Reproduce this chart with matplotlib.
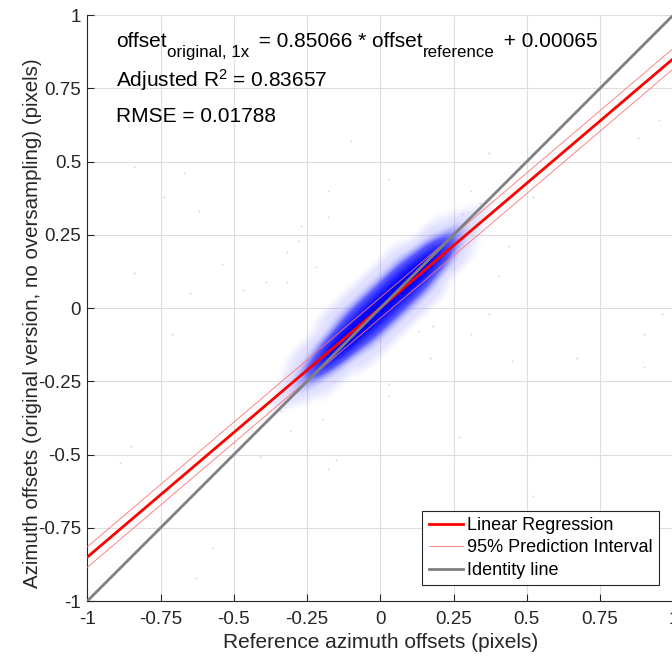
import numpy as np
import matplotlib
matplotlib.use('Agg')
import matplotlib.pyplot as plt
from matplotlib.colors import LinearSegmentedColormap
from matplotlib.transforms import Affine2D

plt.rcParams['font.family'] = ['Liberation Sans', 'DejaVu Sans']
plt.rcParams['mathtext.fontset'] = 'custom'
plt.rcParams['mathtext.rm'] = 'Liberation Sans'
plt.rcParams['mathtext.it'] = 'Liberation Sans:italic'

# regression results (from the fit annotation)
slope = 0.85066
intercept = 0.00065
adj_r2 = 0.83657
rmse = 0.01788
pi_half = 0.035          # half width of the 95% prediction band

ticks = [-1, -0.75, -0.5, -0.25, 0, 0.25, 0.5, 0.75, 1]
tick_labels = ['-1', '-0.75', '-0.5', '-0.25', '0', '0.25', '0.5', '0.75', '1']

# point density of the offset cloud (0-9), in a frame rotated along the cloud
# columns: along-cloud position u (-0.55 .. 0.55), rows: across-cloud v (+0.15 .. -0.15)
cloud_u = [-0.55, 0.55]
cloud_v = [-0.15, 0.15]
cloud_center = (0.02, 0.02)
cloud_angle = 43.5
cloud_density = [
    [0, 0, 0, 0, 0, 0, 0, 0, 0, 0, 0, 0, 0, 0, 0, 0, 0, 0, 0, 0, 0, 0, 0],
    [0, 0, 0, 0, 0, 0, 0, 0, 0, 0, 0, 0, 0, 0, 0, 0, 0, 0, 0, 0, 0, 0, 0],
    [0, 0, 0, 0, 0, 0, 0, 1, 1, 1, 1, 1, 1, 1, 1, 0, 0, 0, 0, 0, 0, 0, 0],
    [0, 0, 0, 0, 1, 1, 1, 1, 2, 2, 2, 2, 2, 2, 2, 1, 1, 1, 0, 0, 0, 0, 0],
    [0, 0, 0, 1, 1, 2, 3, 4, 5, 6, 6, 6, 6, 6, 5, 4, 3, 1, 1, 0, 0, 0, 0],
    [0, 0, 1, 2, 4, 6, 8, 9, 9, 9, 9, 9, 9, 9, 9, 8, 7, 4, 2, 1, 0, 0, 0],
    [0, 1, 2, 3, 5, 8, 9, 9, 9, 9, 9, 9, 9, 9, 9, 9, 8, 5, 3, 1, 1, 0, 0],
    [0, 0, 1, 2, 4, 6, 8, 9, 9, 9, 9, 9, 9, 9, 9, 8, 7, 4, 2, 1, 0, 0, 0],
    [0, 0, 0, 1, 1, 2, 3, 4, 5, 6, 6, 6, 6, 6, 5, 4, 3, 1, 1, 0, 0, 0, 0],
    [0, 0, 0, 0, 1, 1, 1, 1, 2, 2, 2, 2, 2, 2, 2, 1, 1, 1, 0, 0, 0, 0, 0],
    [0, 0, 0, 0, 0, 0, 0, 1, 1, 1, 1, 1, 1, 1, 1, 0, 0, 0, 0, 0, 0, 0, 0],
    [0, 0, 0, 0, 0, 0, 0, 0, 0, 0, 0, 0, 0, 0, 0, 0, 0, 0, 0, 0, 0, 0, 0],
    [0, 0, 0, 0, 0, 0, 0, 0, 0, 0, 0, 0, 0, 0, 0, 0, 0, 0, 0, 0, 0, 0, 0],
]

# scattered single offsets away from the cloud
outlier_x = [-0.84, -0.67, -0.74, -0.62, -0.84, -0.65, -0.54, -0.47, -0.39, -0.32,
             -0.32, -0.27, -0.28, -0.18, -0.10, -0.18, -0.22, 0.18, 0.13, 0.17,
             0.31, 0.37, 0.45, 0.67, 0.90, 0.90, 0.27, 0.03, 0.03, 0.52, 0.96,
             -0.18, -0.15, -0.57, -0.63, -0.71, -0.50, -0.41, -0.31, -0.20, -0.34,
             -0.85, -0.89, 0.37, 0.88, 0.95, 0.03, 0.40, 0.44, 0.52, 0.34, 0.28, 0.31]
outlier_y = [0.48, 0.46, 0.38, 0.33, 0.12, 0.05, 0.15, 0.06, 0.09, 0.09,
             0.19, 0.28, 0.23, 0.40, 0.57, 0.31, 0.14, -0.06, -0.08, -0.17,
             -0.09, -0.02, -0.18, -0.17, -0.09, -0.20, -0.44, -0.30, -0.26, -0.64, -0.02,
             -0.55, -0.52, -0.82, -0.92, -0.09, -0.46, -0.51, -0.42, -0.38, -0.35,
             -0.47, -0.53, 0.53, 0.58, 0.64, 0.44, 0.11, 0.21, 0.38, 0.36, 0.32, 0.40]

fig = plt.figure(figsize=(6.72, 6.58), dpi=100)
ax = fig.add_axes([0.130, 0.0866, 0.872, 0.8906])

dark = (0.15, 0.15, 0.15)

ax.scatter(outlier_x, outlier_y, s=2, color=(0.55, 0.55, 0.8), alpha=0.35,
           linewidths=0, zorder=2)

blue_cmap = LinearSegmentedColormap.from_list(
    'cloud', [(0.0, (0, 0, 1, 0)), (0.15, (0.5, 0.5, 1, 0.25)),
              (0.5, (0.15, 0.15, 1, 0.75)), (1.0, (0, 0, 1, 1))])
im = ax.imshow(np.array(cloud_density, dtype=float), cmap=blue_cmap, vmin=0, vmax=9,
               extent=(cloud_u[0] - 0.025, cloud_u[1] + 0.025,
                       cloud_v[0] - 0.0125, cloud_v[1] + 0.0125),
               origin='upper', interpolation='bicubic', aspect='auto', zorder=2)
im.set_transform(Affine2D().rotate_deg(cloud_angle).translate(*cloud_center) + ax.transData)

xl = np.array([-1.0, 1.0])
ax.plot(xl, slope * xl + intercept, color='red', lw=2.0, zorder=4,
        label='Linear Regression')
ax.plot(xl, slope * xl + intercept + pi_half, color=(1, 0.45, 0.45), lw=0.6, zorder=3,
        label='95% Prediction Interval')
ax.plot(xl, slope * xl + intercept - pi_half, color=(1, 0.45, 0.45), lw=0.6, zorder=3)
ax.plot(xl, xl, color=(0.5, 0.5, 0.5), lw=2.0, zorder=5, label='Identity line')

ax.set_xlim(-1, 1)
ax.set_ylim(-1, 1)
ax.set_xticks(ticks)
ax.set_xticklabels(tick_labels)
ax.set_yticks(ticks)
ax.set_yticklabels(tick_labels)
ax.grid(True, color=(0.87, 0.87, 0.87), lw=0.8, zorder=0)
ax.set_axisbelow(True)
for s in ['top', 'right']:
    ax.spines[s].set_visible(False)
for s in ['left', 'bottom']:
    ax.spines[s].set_color(dark)
    ax.spines[s].set_linewidth(0.8)
ax.tick_params(direction='in', length=5, width=0.8, color=dark, labelcolor=dark,
               labelsize=13.5)
ax.tick_params(axis='x', pad=7)
ax.tick_params(axis='y', pad=4.5)

ax.set_xlabel('Reference azimuth offsets (pixels)', fontsize=15, color=dark, labelpad=4)
ax.set_ylabel('Azimuth offsets (original version, no oversampling) (pixels)',
              fontsize=14.8, color=dark)
ax.yaxis.set_label_coords(-0.078, 0.474)

# fit equation, written piece by piece so the subscripts can be sized like the original
renderer = fig.canvas.get_renderer()
eq_pieces = [('offset', 15, 0, 0),
             ('original, 1x', 12.2, -10, 4),
             (' = %.5f * offset' % slope, 15, 0, 0),
             ('reference', 12.2, -10, 4),
             (' + %.5f' % intercept, 15, 0, 0)]
dx = 0
for txt, size, dy, gap in eq_pieces:
    t = ax.annotate(txt, xy=(0.049, 0.945), xycoords='axes fraction',
                    xytext=(dx, dy), textcoords='offset pixels',
                    fontsize=size, va='baseline', ha='left')
    dx += t.get_window_extent(renderer).width + gap

ax.text(0.049, 0.878, 'Adjusted R$^{2}$ = %.5f' % adj_r2,
        transform=ax.transAxes, fontsize=15, va='baseline')
ax.text(0.049, 0.818, 'RMSE = %.5f' % rmse,
        transform=ax.transAxes, fontsize=15, va='baseline')

leg = ax.legend(loc='lower right', bbox_to_anchor=(0.976, 0.027), borderaxespad=0,
                fontsize=13, fancybox=False, framealpha=1, edgecolor=dark,
                handlelength=1.9, handletextpad=0.25, borderpad=0.35,
                labelspacing=0.3)
leg.get_frame().set_linewidth(0.8)

fig.savefig('out.png', dpi=100)
